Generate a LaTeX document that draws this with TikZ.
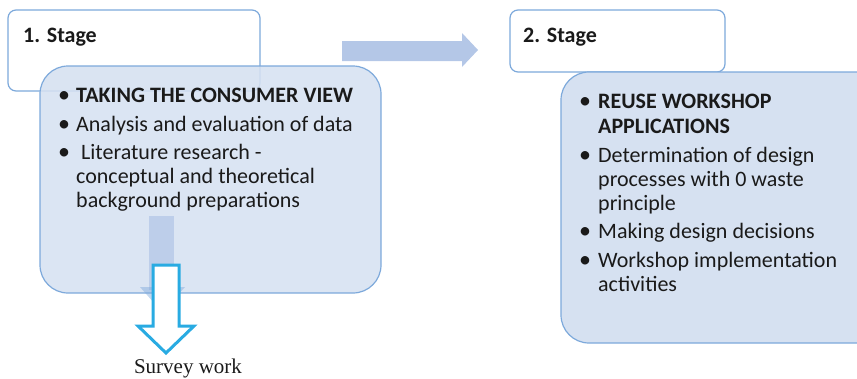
\documentclass[tikz,border=0pt]{standalone}
\usepackage{fontspec}
\setmainfont{Carlito}
\newfontfamily\seriffont{Liberation Serif}
\definecolor{boxfill}{HTML}{D6E1F1}
\definecolor{boxline}{HTML}{7DA9DB}
\definecolor{arrowfill}{HTML}{B4C7E7}
\definecolor{cyanline}{HTML}{29ABE2}
\definecolor{txt}{HTML}{1A1A1A}
\begin{document}
\begin{tikzpicture}[x=1pt,y=-1pt,
  stagebox/.style={draw=boxline, line width=1.2pt, fill=white, rounded corners=8pt},
  bigbox/.style={draw=boxline, line width=1.2pt, fill=boxfill, rounded corners=28pt},
  txtline/.style={anchor=base west, inner sep=0pt, text=txt, font=\fontsize{22}{26}\selectfont},
  boldline/.style={txtline, font=\fontsize{22}{26}\selectfont\bfseries},
  bul/.style={anchor=base, inner sep=0pt, text=txt, font=\fontsize{24}{26}\selectfont}
]
\useasboundingbox (0,0) rectangle (857,378);
% stage 1
\draw[stagebox] (8,10) rectangle (260,91);
\node[boldline] (s1) at (23,42) {1. Stage};
\draw[bigbox, fill opacity=0.88] (40,66) rectangle (381,293);
% faint arrow in box 1
\fill[arrowfill, opacity=0.75] (149,216) rectangle (174,290);
\fill[boxline, opacity=0.45] (140,287) -- (185,287) -- (162,312) -- cycle;
% box 1 text
\node[bul] (b11) at (64,102) {•};
\node[boldline] (t11) at (76,102) {TAKING THE CONSUMER VIEW};
\node[bul] (b12) at (64,131) {•};
\node[txtline] (t12) at (76,131) {Analysis and evaluation of data};
\node[bul] (b13) at (64,159) {•};
\node[txtline] (t13a) at (76,159) {\ Literature research -};
\node[txtline] (t13b) at (76,183) {conceptual and theoretical};
\node[txtline] (t13c) at (76,207) {background preparations};
% cyan down arrow
\draw[cyanline, line width=3pt, fill=white, line join=miter]
  (153,265) -- (179,265) -- (179,326) -- (194,326) -- (166,353) -- (138,326) -- (153,326) -- cycle;
\node[anchor=base, inner sep=0pt, font=\seriffont\fontsize{21}{26}\selectfont, text=txt] (sw) at (188,373) {Survey work};
% right arrow
\fill[arrowfill] (342,41) -- (462,41) -- (462,33) -- (478,50) -- (462,67) -- (462,61) -- (342,61) -- cycle;
% stage 2
\draw[stagebox] (510,10) rectangle (725,72);
\node[boldline] (s2) at (523,42) {2. Stage};
\draw[bigbox] (561,72) rectangle (890,343);
\node[bul] (b21) at (585,108) {•};
\node[boldline] (t21a) at (598,108) {REUSE WORKSHOP};
\node[boldline] (t21b) at (598,133) {APPLICATIONS};
\node[bul] (b22) at (585,162) {•};
\node[txtline] (t22a) at (598,162) {Determination of design};
\node[txtline] (t22b) at (598,186) {processes with 0 waste};
\node[txtline] (t22c) at (598,210) {principle};
\node[bul] (b23) at (585,238) {•};
\node[txtline] (t23) at (598,238) {Making design decisions};
\node[bul] (b24) at (585,267) {•};
\node[txtline] (t24a) at (598,267) {Workshop implementation};
\node[txtline] (t24b) at (598,291) {activities};
\end{tikzpicture}
\end{document}
